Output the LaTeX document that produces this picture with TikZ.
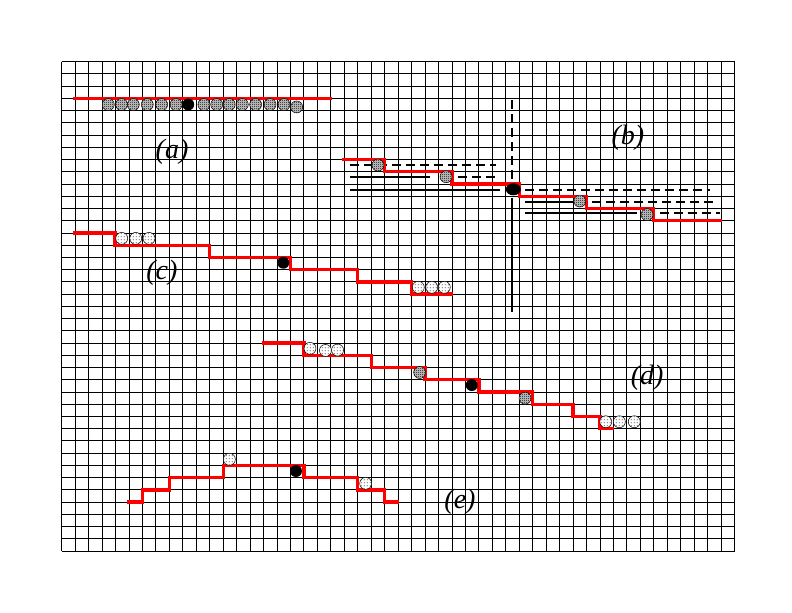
\documentclass[tikz,border=0pt]{standalone}
\usepackage{fontspec}
\setmainfont{Liberation Serif}
\usetikzlibrary{patterns}
\pgfdeclarepatternformonly{finecheck}{\pgfqpoint{0pt}{0pt}}{\pgfqpoint{2pt}{2pt}}{\pgfqpoint{2pt}{2pt}}{%
  \pgfpathrectangle{\pgfqpoint{0pt}{0pt}}{\pgfqpoint{1pt}{1pt}}%
  \pgfpathrectangle{\pgfqpoint{1pt}{1pt}}{\pgfqpoint{1pt}{1pt}}%
  \pgfusepath{fill}}
\pgfdeclarepatternformonly{sparsedots}{\pgfqpoint{0pt}{0pt}}{\pgfqpoint{3pt}{3pt}}{\pgfqpoint{3pt}{3pt}}{%
  \pgfpathrectangle{\pgfqpoint{1pt}{1pt}}{\pgfqpoint{0.9pt}{0.9pt}}%
  \pgfusepath{fill}}
\tikzset{
  gridline/.style={black, line width=0.9pt},
  redpath/.style={red, line width=3.3pt},
  guide/.style={black, line width=1.8pt},
  guidedash/.style={guide, dash pattern=on 9pt off 5pt},
  ballchk/.style={draw=black, line width=0.5pt, preaction={fill=gray!40}, pattern=finecheck},
  balldot/.style={draw=black, line width=0.5pt, preaction={fill=white}, pattern=sparsedots},
  ballblk/.style={fill=black},
  lbl/.style={font=\fontsize{28}{32}\selectfont\itshape, inner sep=0pt}
}
\begin{document}
\begin{tikzpicture}[x=13.456pt,y=-12.2325pt]
\useasboundingbox (-4.585,-5.044) rectangle (54.27,45.0);
% grid
\foreach \i in {0,...,50} \draw[gridline] (\i,0) -- (\i,40);
\foreach \j in {0,...,40} \draw[gridline] (0,\j) -- (50,\j);

% (b) guide lines
\draw[guidedash] (21.43,8.45) -- (32.25,8.45);
\draw[guide] (21.43,9.4) -- (27.37,9.4);
\draw[guidedash] (29.45,9.4) -- (32.57,9.4);
\draw[guide] (21.43,10.5) -- (32.57,10.5);
\draw[guidedash] (34.43,10.5) -- (48.18,10.5);
\draw[guide] (34.43,11.44) -- (38.15,11.44);
\draw[guidedash] (39.4,11.44) -- (48.4,11.44);
\draw[guide] (34.43,12.39) -- (42.73,12.39);
\draw[guidedash] (44.46,12.39) -- (48.92,12.39);
\draw[guidedash] (33.44,3.13) -- (33.44,10.1);
\draw[guide] (33.44,11.14) -- (33.44,20.47);

% red paths
\draw[redpath] (0.86,3) -- (20.07,3);
\draw[redpath] (20.85,8) -| (24,9) -| (29,10) -| (34,11) -| (39,12) -| (44,13) -- (49.05,13);
\draw[redpath] (0.86,14) -| (3.95,15) -| (11,16) -| (17,17) -| (22,18) -| (26,19) -- (29.05,19);
\draw[redpath] (14.86,23) -| (18,24) -| (23,25) -| (27,26) -| (31,27) -| (35,28) -| (38,29) -| (40,30) -- (41.05,30);
\draw[redpath] (4.88,36) -| (6,35) -| (8,34) -| (12,33) -| (18,34) -| (22,35) -| (24,36) -- (25.1,36);

% (a) balls
\foreach \c in {3.46,4.45,5.32,6.36,7.43,8.5,10.57,11.52,12.45,13.42,14.41,15.48,16.52}
  \path[ballchk] (\c,3.5) circle[radius=6pt];
\path[ballchk] (17.46,3.7) circle[radius=6pt];
\path[ballblk] (9.4,3.5) circle[radius=6pt];

% (b) balls
\path[ballchk] (23.5,8.45) circle[radius=6pt];
\path[ballchk] (28.56,9.4) circle[radius=6pt];
\path[ballblk] (33.56,10.43) ellipse[x radius=7.5pt, y radius=6pt];
\path[ballchk] (38.5,11.39) circle[radius=6pt];
\path[ballchk] (43.5,12.5) circle[radius=6pt];

% (c) balls
\foreach \c in {4.46,5.5,6.49} \path[balldot] (\c,14.44) circle[radius=6pt];
\path[ballblk] (16.47,16.43) circle[radius=6pt];
\foreach \c in {26.5,27.5,28.43} \path[balldot] (\c,18.44) circle[radius=6pt];

% (d) balls
\path[balldot] (18.45,23.43) circle[radius=6pt];
\path[balldot] (19.6,23.6) circle[radius=6pt];
\path[balldot] (20.5,23.57) circle[radius=6pt];
\path[ballchk] (26.6,25.4) circle[radius=6pt];
\path[ballblk] (30.47,26.43) circle[radius=6pt];
\path[ballchk] (34.43,27.5) circle[radius=6pt];
\foreach \c in {40.43,41.44,42.55} \path[balldot] (\c,29.43) circle[radius=6pt];

% (e) balls
\path[balldot] (12.46,32.5) circle[radius=6pt];
\path[ballblk] (17.41,33.46) circle[radius=6pt];
\path[balldot] (22.59,34.47) circle[radius=6pt];

% labels
\node[lbl] (la) at (8.2,7.38) {(a)};
\node[lbl] (lb) at (42.08,6.24) {(b)};
\node[lbl] (lc) at (7.45,17.27) {(c)};
\node[lbl] (ld) at (43.5,25.86) {(d)};
\node[lbl] (le) at (29.6,36.0) {(e)};
\end{tikzpicture}
\end{document}
